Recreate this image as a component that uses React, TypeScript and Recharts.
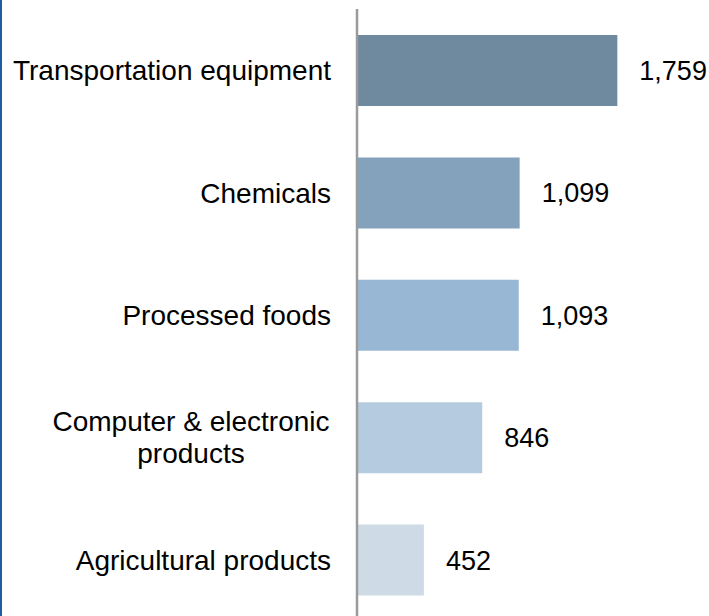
import React from "react";
import { Bar, BarChart, Cell, LabelList, XAxis, YAxis } from "recharts";

const categories = [
  "Transportation equipment",
  "Chemicals",
  "Processed foods",
  "Computer & electronic products",
  "Agricultural products",
];
const values = [1759, 1099, 1093, 846, 452];
const colors = ["#6f899f", "#84a2bb", "#97b7d4", "#b5cbdf", "#cedbe6"];
// labels that wrap onto two lines (centred block)
const tickLines: Record<string, string[]> = {
  "Computer & electronic products": ["Computer & electronic", "products"],
};

const data = categories.map((name, i) => ({ name, value: values[i] }));

const FONT = "Liberation Sans, Arial, sans-serif";

function CategoryTick(props: any) {
  const { x, y, payload } = props;
  const lines = tickLines[payload.value];
  if (!lines) {
    return (
      <text x={x} y={y} dy={10} textAnchor="end" fontFamily={FONT} fontSize={28} fill="#000">
        {payload.value}
      </text>
    );
  }
  const lh = 32;
  const start = -((lines.length - 1) * lh) / 2 + 10;
  const cx = x - 140;
  return (
    <text x={cx} y={y} textAnchor="middle" fontFamily={FONT} fontSize={28} fill="#000">
      {lines.map((l, i) => (
        <tspan key={i} x={cx} dy={i === 0 ? start : lh}>
          {l}
        </tspan>
      ))}
    </text>
  );
}

export default function App() {
  return (
    <div
      style={{
        position: "fixed",
        top: 0,
        left: 0,
        width: 709,
        height: 616,
        overflow: "hidden",
        background: "#fff",
        boxSizing: "border-box",
        borderLeft: "2px solid #1f5e9e",
      }}
    >
      <BarChart
        width={707}
        height={630}
        data={data}
        layout="vertical"
        margin={{ top: 9, right: 56, bottom: 9, left: 0 }}
        barSize={71}
      >
        <XAxis type="number" domain={[0, 2000]} hide />
        <YAxis
          type="category"
          dataKey="name"
          width={355}
          tickLine={false}
          tickSize={0}
          tickMargin={26}
          axisLine={{ stroke: "#9b9b9b", strokeWidth: 2.5 }}
          tick={<CategoryTick />}
          interval={0}
        />
        <Bar dataKey="value" isAnimationActive={false}>
          {data.map((d, i) => (
            <Cell key={d.name} fill={colors[i]} />
          ))}
          <LabelList
            dataKey="value"
            position="right"
            offset={22}
            formatter={(v: any) => Number(v).toLocaleString("en-US")}
            style={{ fontFamily: FONT, fontSize: 27, fill: "#000" }}
          />
        </Bar>
      </BarChart>
    </div>
  );
}
